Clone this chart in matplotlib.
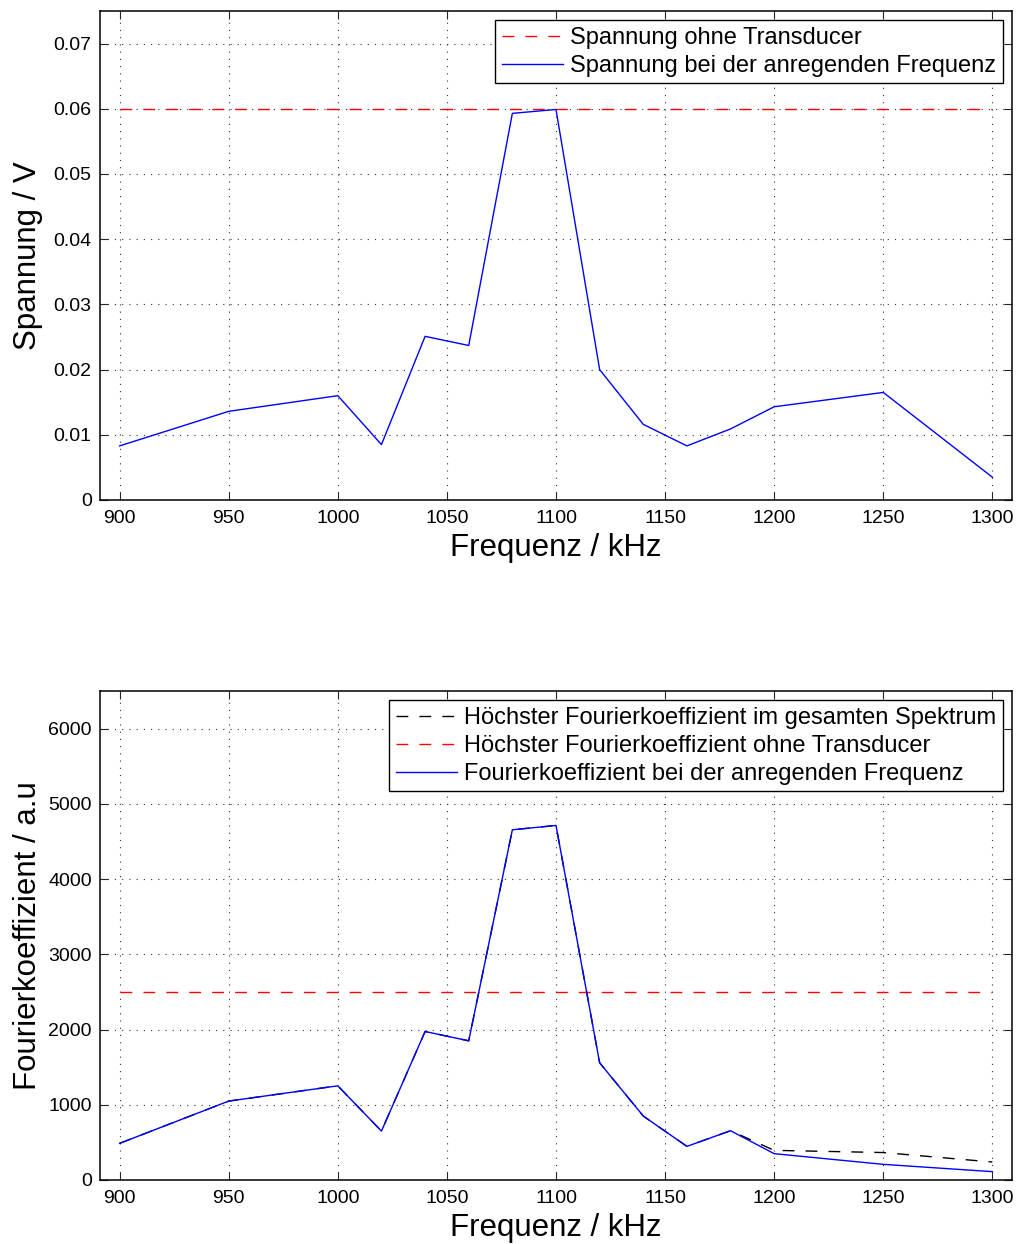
import matplotlib
matplotlib.use("Agg")
import matplotlib.pyplot as plt
import numpy as np

plt.rcParams['font.family'] = ['Liberation Sans', 'DejaVu Sans']

# ---- data ----
freq = [900, 950, 1000, 1020, 1040, 1060, 1080, 1100, 1120, 1140, 1160, 1180, 1200, 1250, 1300]
spannung = [0.0083, 0.0136, 0.0160, 0.0085, 0.0251, 0.0237, 0.0593, 0.0599, 0.0200,
            0.0116, 0.0083, 0.0109, 0.0143, 0.0165, 0.0035]
spannung_ohne = 0.060

fk_anregend = [487, 1049, 1252, 650, 1974, 1850, 4655, 4713, 1558, 850, 447, 655, 350, 208, 111]
fk_gesamt = [487, 1049, 1252, 650, 1974, 1850, 4655, 4713, 1558, 850, 447, 655, 394, 365, 239]
fk_ohne = 2500

xticks = [900, 950, 1000, 1050, 1100, 1150, 1200, 1250, 1300]
yticks_top = [0, 0.01, 0.02, 0.03, 0.04, 0.05, 0.06, 0.07]
yticklabels_top = ['0', '0.01', '0.02', '0.03', '0.04', '0.05', '0.06', '0.07']
yticks_bot = [0, 1000, 2000, 3000, 4000, 5000, 6000]

W, H = 1019, 1244
fig = plt.figure(figsize=(W / 100, H / 100), dpi=100)

def px_axes(left, top, right, bottom):
    return fig.add_axes([left / W, 1 - bottom / H, (right - left) / W, (bottom - top) / H])

ax1 = px_axes(100, 11, 1012, 500)
ax2 = px_axes(100, 691, 1012, 1180)

DASH = (8.5, 8)

def style(ax):
    ax.set_xlim(891, 1309)
    ax.set_xticks(xticks)
    ax.set_xticklabels([str(t) for t in xticks])
    ax.tick_params(axis='both', which='both', direction='in', top=True, right=True,
                   length=6, width=0.8, labelsize=14, pad=6, color='0.15')
    ax.tick_params(axis='x', pad=7.5)
    ax.grid(True, color='0.2', linewidth=0.8, linestyle=(0, (1, 5.5)))
    for s in ax.spines.values():
        s.set_linewidth(1.1)
        s.set_color('black')
    ax.set_xlabel('Frequenz / kHz', fontsize=22.5, labelpad=4)
    ax.yaxis.set_label_coords(-0.062, 0.5)

# ---- top plot ----
ax1.plot(freq, [spannung_ohne] * len(freq), color='red', linewidth=1.0,
         dashes=DASH, label='Spannung ohne Transducer')
ax1.plot(freq, spannung, color='blue', linewidth=1.0,
         label='Spannung bei der anregenden Frequenz')
ax1.set_ylim(0, 0.075)
ax1.set_yticks(yticks_top)
ax1.set_yticklabels(yticklabels_top)
style(ax1)
ax1.set_ylabel('Spannung / V', fontsize=22.5)

# ---- bottom plot ----
ax2.plot(freq, fk_gesamt, color='black', linewidth=1.0, dashes=DASH,
         label='Höchster Fourierkoeffizient im gesamten Spektrum')
ax2.plot(freq, [fk_ohne] * len(freq), color='red', linewidth=1.0, dashes=DASH,
         label='Höchster Fourierkoeffizient ohne Transducer')
ax2.plot(freq, fk_anregend, color='blue', linewidth=1.0,
         label='Fourierkoeffizient bei der anregenden Frequenz')
ax2.set_ylim(0, 6500)
ax2.set_yticks(yticks_bot)
ax2.set_yticklabels([str(t) for t in yticks_bot])
style(ax2)
ax2.set_ylabel('Fourierkoeffizient / a.u', fontsize=22.5)

for ax in (ax1, ax2):
    leg = ax.legend(loc='upper right', fontsize=17, frameon=True, fancybox=False,
                    framealpha=1, edgecolor='black', borderaxespad=0.4,
                    borderpad=0.27, labelspacing=0.26, handlelength=2.6,
                    handletextpad=0.3)
    leg.get_frame().set_linewidth(1.0)

fig.savefig('out.png', dpi=100)
